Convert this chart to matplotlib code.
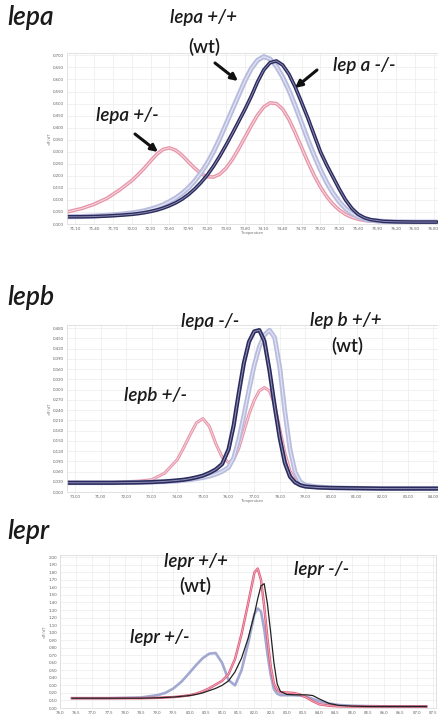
import numpy as np
import matplotlib
matplotlib.use('Agg')
import matplotlib.pyplot as plt


W, H = 438, 714

# ---- lepa panel (melt curves, -dF/dT) ----
lepa_temp = [70.97, 71.2, 71.4, 71.6, 71.8, 72.0, 72.1, 72.2, 72.3, 72.4, 72.5, 72.6,
             72.7, 72.8, 72.9, 73.0, 73.1, 73.2, 73.3, 73.4, 73.5, 73.6, 73.7, 73.8,
             73.9, 74.0, 74.1, 74.2, 74.3, 74.4, 74.5, 74.6, 74.7, 74.8, 74.9, 75.0,
             75.1, 75.2, 75.3, 75.4, 75.5, 75.6, 75.7, 75.8, 76.0, 76.2, 76.5, 76.85]
lepa_ko = [0.030, 0.030, 0.031, 0.033, 0.036, 0.040, 0.043, 0.047, 0.052, 0.058, 0.066, 0.076,
           0.088, 0.103, 0.122, 0.145, 0.172, 0.203, 0.240, 0.282, 0.328, 0.376, 0.426, 0.476,
           0.530, 0.590, 0.640, 0.670, 0.677, 0.660, 0.622, 0.568, 0.505, 0.440, 0.370, 0.300,
           0.245, 0.195, 0.145, 0.100, 0.065, 0.040, 0.026, 0.018, 0.011, 0.009, 0.008, 0.008]
lepa_wt = [0.030, 0.031, 0.033, 0.036, 0.040, 0.046, 0.050, 0.055, 0.062, 0.070, 0.080, 0.093,
           0.108, 0.127, 0.150, 0.178, 0.212, 0.252, 0.300, 0.355, 0.415, 0.475, 0.535, 0.595,
           0.645, 0.680, 0.695, 0.685, 0.655, 0.610, 0.555, 0.490, 0.420, 0.350, 0.285, 0.225,
           0.172, 0.128, 0.092, 0.064, 0.044, 0.030, 0.020, 0.015, 0.011, 0.009, 0.008, 0.008]
lepa_het = [0.050, 0.064, 0.082, 0.106, 0.140, 0.180, 0.205, 0.232, 0.262, 0.290, 0.310, 0.316,
            0.306, 0.285, 0.258, 0.232, 0.210, 0.196, 0.195, 0.207, 0.232, 0.268, 0.312, 0.360,
            0.408, 0.452, 0.486, 0.503, 0.500, 0.477, 0.434, 0.378, 0.318, 0.258, 0.202, 0.154,
            0.114, 0.082, 0.058, 0.040, 0.028, 0.020, 0.015, 0.012, 0.010, 0.009, 0.008, 0.008]
lepa_xticks = [71.10, 71.40, 71.70, 72.00, 72.30, 72.60, 72.90, 73.20, 73.50, 73.80,
               74.10, 74.40, 74.70, 75.00, 75.30, 75.60, 75.90, 76.20, 76.50, 76.80]
lepa_yticks = [0.000, 0.050, 0.100, 0.150, 0.200, 0.250, 0.300, 0.350,
               0.400, 0.450, 0.500, 0.550, 0.600, 0.650, 0.700]

# ---- lepb panel ----
lepb_temp = [69.69, 70.5, 71.5, 72.5, 73.0, 73.5, 74.0, 74.25, 74.5, 74.75, 75.0, 75.25,
             75.5, 75.75, 76.0, 76.2, 76.4, 76.6, 76.8, 77.0, 77.2, 77.4, 77.6, 77.8,
             78.0, 78.2, 78.4, 78.6, 78.8, 79.0, 79.5, 80.0, 81.0, 82.0, 83.0, 84.18]
lepb_ko = [0.027, 0.027, 0.027, 0.028, 0.029, 0.031, 0.034, 0.036, 0.039, 0.043, 0.048, 0.056,
           0.066, 0.082, 0.125, 0.195, 0.290, 0.378, 0.440, 0.470, 0.474, 0.442, 0.355, 0.252,
           0.158, 0.085, 0.045, 0.028, 0.020, 0.016, 0.013, 0.012, 0.011, 0.010, 0.010, 0.010]
lepb_wt = [0.027, 0.027, 0.027, 0.028, 0.029, 0.030, 0.032, 0.034, 0.036, 0.039, 0.042, 0.046,
           0.052, 0.060, 0.072, 0.100, 0.155, 0.225, 0.300, 0.370, 0.425, 0.460, 0.474, 0.452,
           0.365, 0.235, 0.125, 0.058, 0.030, 0.020, 0.015, 0.012, 0.011, 0.010, 0.010, 0.010]
lepb_het = [0.027, 0.027, 0.028, 0.032, 0.036, 0.055, 0.095, 0.130, 0.168, 0.203, 0.215, 0.192,
            0.142, 0.102, 0.086, 0.095, 0.128, 0.178, 0.228, 0.268, 0.296, 0.306, 0.296, 0.255,
            0.185, 0.115, 0.062, 0.036, 0.022, 0.017, 0.014, 0.012, 0.011, 0.010, 0.010, 0.010]
lepb_xticks = [70.00, 71.00, 72.00, 73.00, 74.00, 75.00, 76.00, 77.00,
               78.00, 79.00, 80.00, 81.00, 82.00, 83.00, 84.00]
lepb_yticks = [0.000, 0.030, 0.060, 0.090, 0.120, 0.150, 0.180, 0.210, 0.240,
               0.270, 0.300, 0.330, 0.360, 0.390, 0.420, 0.450, 0.480]

# ---- lepr panel ----
lepr_temp = [76.37, 77.0, 77.5, 78.0, 78.5, 79.0, 79.25, 79.5, 79.75, 80.0, 80.2, 80.4,
             80.6, 80.8, 81.0, 81.2, 81.4, 81.6, 81.8, 82.0, 82.1, 82.2, 82.3, 82.4,
             82.5, 82.6, 82.7, 82.8, 83.0, 83.2, 83.4, 83.6, 83.8, 84.0, 84.3, 84.6,
             85.0, 85.5, 86.0, 86.5, 87.0, 87.3]
lepr_het = [0.13, 0.13, 0.13, 0.135, 0.14, 0.17, 0.20, 0.26, 0.35, 0.47, 0.57, 0.66,
            0.72, 0.73, 0.60, 0.37, 0.30, 0.50, 0.85, 1.25, 1.32, 1.28, 1.05, 0.72,
            0.44, 0.25, 0.19, 0.17, 0.17, 0.17, 0.165, 0.15, 0.12, 0.09, 0.06, 0.04,
            0.03, 0.025, 0.022, 0.02, 0.02, 0.02]
lepr_wt = [0.13, 0.13, 0.13, 0.13, 0.13, 0.135, 0.14, 0.145, 0.155, 0.17, 0.19, 0.22,
           0.26, 0.31, 0.36, 0.45, 0.65, 0.98, 1.38, 1.80, 1.85, 1.70, 1.35, 0.92,
           0.55, 0.32, 0.24, 0.21, 0.205, 0.20, 0.18, 0.14, 0.09, 0.05, 0.03, 0.022,
           0.02, 0.02, 0.02, 0.02, 0.02, 0.02]
lepr_ko = [0.13, 0.13, 0.13, 0.13, 0.13, 0.135, 0.14, 0.145, 0.155, 0.165, 0.18, 0.20,
           0.23, 0.26, 0.30, 0.36, 0.48, 0.66, 0.92, 1.25, 1.45, 1.62, 1.65, 1.38,
           1.00, 0.60, 0.32, 0.22, 0.18, 0.175, 0.175, 0.175, 0.165, 0.12, 0.06, 0.035,
           0.025, 0.02, 0.02, 0.02, 0.02, 0.02]
lepr_xticks = [76.0, 76.5, 77.0, 77.5, 78.0, 78.5, 79.0, 79.5, 80.0, 80.5, 81.0, 81.5,
               82.0, 82.5, 83.0, 83.5, 84.0, 84.5, 85.0, 85.5, 86.0, 86.5, 87.0, 87.5]
lepr_yticks = [0.00, 0.10, 0.20, 0.30, 0.40, 0.50, 0.60, 0.70, 0.80, 0.90, 1.00,
               1.10, 1.20, 1.30, 1.40, 1.50, 1.60, 1.70, 1.80, 1.90, 2.00]

NAVY = '#2a2a5c'
NAVY_IN = '#8c8cb4'
LAV = '#b8bcde'
LAV_IN = '#e2e4f3'
PINK = '#e796aa'
PINK_IN = '#f8dfe5'

plt.rcParams['font.family'] = ['Lato', 'DejaVu Sans']


def px_axes(fig, left, top, right, bottom):
  return fig.add_axes([left / W, 1 - bottom / H, (right - left) / W, (bottom - top) / H])


def style(ax, xticks, yticks, xfmt, yfmt, xlim, ylim, xlabel=True):
  ax.set_xlim(*xlim)
  ax.set_ylim(*ylim)
  ax.set_xticks(xticks)
  ax.set_yticks(yticks)
  ax.set_xticklabels([xfmt % t for t in xticks])
  ax.set_yticklabels([yfmt % t for t in yticks])
  ax.tick_params(length=0, labelsize=3.2, labelcolor='#666666', pad=2)
  ax.grid(True, color='#ececec', lw=0.5)
  ax.set_axisbelow(True)
  for s in ax.spines.values():
    s.set_color('#dddddd')
    s.set_linewidth(0.6)
  ax.set_ylabel('-dF/dT', fontsize=3, color='#777777', labelpad=1)
  if xlabel:
    ax.set_xlabel('Temperature', fontsize=3, color='#777777', labelpad=0.5)


def band(ax, x, y, color, inner, lw):
  ax.plot(x, y, color=color, lw=lw, solid_capstyle='round')
  ax.plot(x, y, color=inner, lw=lw * 0.25, solid_capstyle='round')


def arrow(fig, x1, y1, x2, y2):
  fig.axes[0].annotate('', xy=(x2, H - y2), xytext=(x1, H - y1),
                       xycoords='figure pixels', textcoords='figure pixels',
                       arrowprops=dict(arrowstyle='-|>', lw=2.2, color='#111111',
                                       mutation_scale=10, shrinkA=0, shrinkB=0),
                       annotation_clip=False)


def label(fig, x, y, s, size=13.5, italic=True):
  fig.text(x / W, 1 - y / H, s, fontsize=size, style='italic' if italic else 'normal',
           fontweight='semibold', ha='center', va='center', color='#1a1a1a')


fig = plt.figure(figsize=(W / 100, H / 100), dpi=100)

# lepa
ax1 = px_axes(fig, 67, 53, 438, 224)
style(ax1, lepa_xticks, lepa_yticks, '%.2f', '%.3f', (70.97, 76.87), (0, 0.71))
band(ax1, lepa_temp, lepa_het, PINK, PINK_IN, 2.6)
band(ax1, lepa_temp, lepa_wt, LAV, LAV_IN, 3.6)
band(ax1, lepa_temp, lepa_ko, NAVY, NAVY_IN, 2.6)

# lepb
ax2 = px_axes(fig, 67, 325, 438, 492)
style(ax2, lepb_xticks, lepb_yticks, '%.2f', '%.3f', (69.69, 84.18), (0, 0.489))
band(ax2, lepb_temp, lepb_het, PINK, PINK_IN, 2.2)
band(ax2, lepb_temp, lepb_wt, LAV, LAV_IN, 3.4)
band(ax2, lepb_temp, lepb_ko, NAVY, NAVY_IN, 3.0)

# lepr (temperature label falls off the bottom in the original)
ax3 = px_axes(fig, 60, 555, 436, 708)
style(ax3, lepr_xticks, lepr_yticks, '%.1f', '%.2f', (76.0, 87.6), (0, 2.03), xlabel=False)
ax3.plot(lepr_temp, lepr_het, color='#a3a8d2', lw=1.9)
ax3.plot(lepr_temp, lepr_wt, color='#e0607e', lw=1.8)
ax3.plot(lepr_temp, lepr_wt, color='#f4b8c6', lw=0.5)
ax3.plot(lepr_temp, lepr_ko, color='#222222', lw=0.9)

# panel titles
for name, y in [('lepa', 18), ('lepb', 297), ('lepr', 532)]:
  fig.text(7 / W, 1 - y / H, name, fontsize=19, style='italic', fontweight='semibold',
           ha='left', va='center', color='#1a1a1a')

# lepa labels
label(fig, 127, 116, 'lepa +/-')
arrow(fig, 135, 134, 158, 152)
label(fig, 203, 18, 'lepa +/+')
label(fig, 204, 47, '(wt)', italic=False)
arrow(fig, 215, 63, 238, 81)
label(fig, 364, 65, 'lep a -/-')
arrow(fig, 317, 70, 295, 88)

# lepb labels
label(fig, 210, 322, 'lepa -/-')
arrow(fig, 220, 333, 243, 352)
label(fig, 346, 321, 'lep b +/+')
label(fig, 347, 346, '(wt)', italic=False)
arrow(fig, 310, 338, 288, 358)
label(fig, 156, 395, 'lepb +/-')
arrow(fig, 164, 412, 187, 430)

# lepr labels
label(fig, 196, 561, 'lepr +/+')
label(fig, 195, 586, '(wt)', italic=False)
arrow(fig, 220, 578, 242, 598)
label(fig, 322, 569, 'lepr -/-')
arrow(fig, 297, 582, 275, 600)
label(fig, 160, 638, 'lepr +/-')
arrow(fig, 171, 653, 193, 672)

fig.savefig('out.png', dpi=100)
